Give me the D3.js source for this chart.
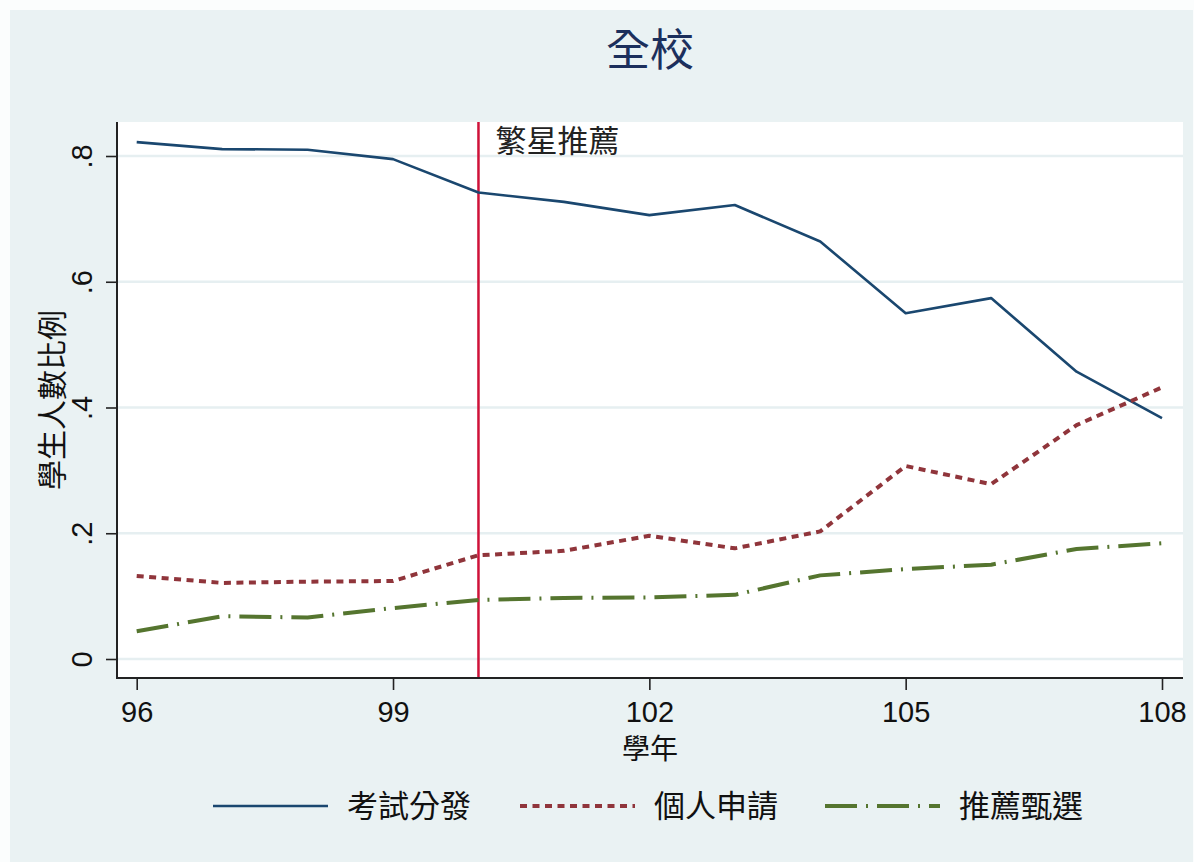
<!DOCTYPE html>
<html>
<head>
	<meta charset="utf-8">
	<title>全校</title>
	<script src="https://d3js.org/d3.v7.min.js"></script>
	<style>
		body { margin: 0; background: #fbfdfd; }
		svg { display: block; }
	</style>
</head>
<body>
	<script type="text/javascript">
		// data
		var years = [96, 97, 98, 99, 100, 101, 102, 103, 104, 105, 106, 107, 108]
		var exam = [0.822, 0.811, 0.810, 0.795, 0.742, 0.727, 0.706, 0.722, 0.664, 0.550, 0.574, 0.457, 0.383]
		var apply = [0.132, 0.121, 0.123, 0.124, 0.165, 0.172, 0.196, 0.176, 0.203, 0.307, 0.278, 0.372, 0.432]
		var recommend = [0.044, 0.068, 0.066, 0.081, 0.094, 0.097, 0.098, 0.102, 0.133, 0.143, 0.150, 0.175, 0.184]
		var seriesNames = ["考試分發", "個人申請", "推薦甄選"]
		var yTicks = [0, 0.2, 0.4, 0.6, 0.8]
		var xTicks = [96, 99, 102, 105, 108]
		var markerYear = 100
		var markerLabel = "繁星推薦"

		var width = 1194
		var height = 862
		var cjk = "'Noto Sans CJK TC', 'Noto Sans CJK SC', sans-serif"
		var latin = "'Liberation Sans', Arial, sans-serif"

		var plot = {left: 117, right: 1183, top: 122, bottom: 678}

		var svg = d3.select("body").append("svg")
			.attr("width", width)
			.attr("height", height)

		// graph region
		svg.append("rect")
			.attr("x", 10).attr("y", 10)
			.attr("width", 1183).attr("height", height - 10)
			.attr("fill", "#eaf2f3")

		svg.append("rect")
			.attr("x", plot.left).attr("y", plot.top)
			.attr("width", plot.right - plot.left).attr("height", plot.bottom - plot.top)
			.attr("fill", "#ffffff")

		var x = d3.scaleLinear().domain([96, 108]).range([136.7, 1162])
		var y = d3.scaleLinear().domain([0, 0.8]).range([659, 156])

		// grid
		svg.append("g").selectAll("line")
			.data(yTicks)
			.enter()
			.append("line")
			.attr("x1", plot.left).attr("x2", plot.right)
			.attr("y1", d => y(d)).attr("y2", d => y(d))
			.attr("stroke", "#e6eff1")
			.attr("stroke-width", 2.5)

		// marker line
		svg.append("line")
			.attr("x1", x(markerYear)).attr("x2", x(markerYear))
			.attr("y1", plot.top).attr("y2", plot.bottom)
			.attr("stroke", "#cf1239")
			.attr("stroke-width", 2.5)

		svg.append("text")
			.attr("x", x(markerYear) + 17)
			.attr("y", 152)
			.attr("font-family", cjk)
			.attr("font-size", 31)
			.attr("fill", "#222")
			.text(markerLabel)

		var styles = [
			{values: exam, color: "#1a476f", width: 2.6, dash: null},
			{values: apply, color: "#90353b", width: 4, dash: "7,5.5"},
			{values: recommend, color: "#55752f", width: 4, dash: "32,9,2,9"}
		]

		var line = d3.line()
			.x((d, i) => x(years[i]))
			.y(d => y(d))

		svg.append("g").selectAll("path")
			.data(styles)
			.enter()
			.append("path")
			.attr("d", d => line(d.values))
			.attr("fill", "none")
			.attr("stroke", d => d.color)
			.attr("stroke-width", d => d.width)
			.attr("stroke-dasharray", d => d.dash)
			.attr("stroke-linejoin", "round")

		// axes
		var fmt = d => d === 0 ? "0" : d3.format(".1f")(d).replace(/^0/, "")

		var yAxis = svg.append("g")
			.attr("transform", "translate(" + plot.left + ",0)")
			.call(d3.axisLeft(y).tickValues(yTicks).tickFormat(fmt).tickSize(11))
		yAxis.select(".domain").remove()
		yAxis.selectAll("line").attr("stroke", "#222").attr("stroke-width", 1.6)
		// labels sit inside each tick group, so local coordinates
		yAxis.selectAll("text")
			.attr("font-family", latin)
			.attr("font-size", 29)
			.attr("fill", "#111")
			.attr("x", -25)
			.attr("y", 0)
			.attr("dy", 0)
			.attr("transform", "rotate(-90,-25,0)")
			.attr("text-anchor", "middle")

		var xAxis = svg.append("g")
			.attr("transform", "translate(0," + plot.bottom + ")")
			.call(d3.axisBottom(x).tickValues(xTicks).tickFormat(d3.format("d")).tickSize(12).tickPadding(11))
		xAxis.select(".domain").remove()
		xAxis.selectAll("line").attr("stroke", "#222").attr("stroke-width", 1.6)
		xAxis.selectAll("text")
			.attr("font-family", latin)
			.attr("font-size", 29)
			.attr("fill", "#111")
			.attr("dy", "0.71em")

		svg.append("line")
			.attr("x1", plot.left).attr("x2", plot.left)
			.attr("y1", plot.top).attr("y2", plot.bottom + 1)
			.attr("stroke", "#222").attr("stroke-width", 2)
		svg.append("line")
			.attr("x1", plot.left - 1).attr("x2", plot.right)
			.attr("y1", plot.bottom).attr("y2", plot.bottom)
			.attr("stroke", "#222").attr("stroke-width", 2)

		// titles
		svg.append("text")
			.attr("x", (plot.left + plot.right) / 2)
			.attr("y", 66)
			.attr("text-anchor", "middle")
			.attr("font-family", cjk)
			.attr("font-size", 44)
			.attr("fill", "#1c2f5c")
			.text("全校")

		svg.append("text")
			.attr("x", (plot.left + plot.right) / 2)
			.attr("y", 759)
			.attr("text-anchor", "middle")
			.attr("font-family", cjk)
			.attr("font-size", 28)
			.attr("fill", "#111")
			.text("學年")

		svg.append("text")
			.attr("transform", "translate(63," + (plot.top + plot.bottom) / 2 + ") rotate(-90)")
			.attr("text-anchor", "middle")
			.attr("font-family", cjk)
			.attr("font-size", 30)
			.attr("fill", "#111")
			.text("學生人數比例")

		// legend
		var legendX = [213, 520, 825]
		var legend = svg.append("g").selectAll("g")
			.data(styles)
			.enter()
			.append("g")
			.attr("transform", (d, i) => "translate(" + legendX[i] + ",806)")

		legend.append("line")
			.attr("x1", 0).attr("x2", 115)
			.attr("stroke", d => d.color)
			.attr("stroke-width", d => d.width)
			.attr("stroke-dasharray", d => d.dash)

		legend.append("text")
			.attr("x", 134)
			.attr("dy", "0.36em")
			.attr("font-family", cjk)
			.attr("font-size", 31)
			.attr("fill", "#111")
			.text((d, i) => seriesNames[i])
	</script>
</body>
</html>
